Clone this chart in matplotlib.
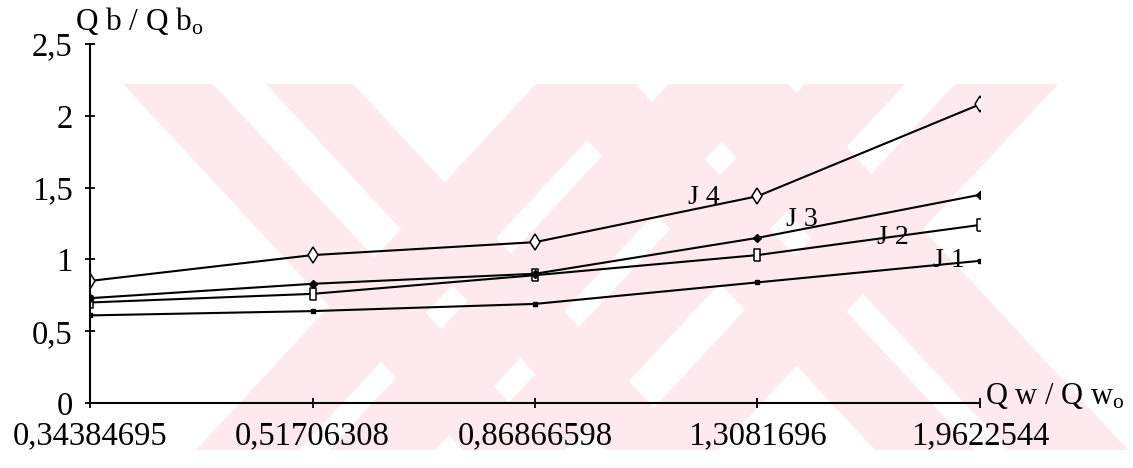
import numpy as np
import matplotlib.pyplot as plt
from matplotlib.patches import Polygon

plt.rcParams['font.family'] = ['Liberation Serif', 'DejaVu Serif']
plt.rcParams['mathtext.fontset'] = 'custom'
plt.rcParams['mathtext.rm'] = 'Liberation Serif'
plt.rcParams['mathtext.it'] = 'Liberation Serif:italic'

# data
qw_labels = ["0,34384695", "0,51706308", "0,86866598", "1,3081696", "1,9622544"]
j1 = [0.61, 0.64, 0.69, 0.84, 0.99]
j2 = [0.70, 0.76, 0.89, 1.03, 1.24]
j3 = [0.73, 0.83, 0.90, 1.15, 1.45]
j4 = [0.85, 1.03, 1.12, 1.44, 2.08]
series_names = ["J 1", "J 2", "J 3", "J 4"]
y_ticks = [0, 0.5, 1, 1.5, 2, 2.5]
y_ticklabels = ["0", "0,5", "1", "1,5", "2", "2,5"]

W, H = 1133, 468
fig = plt.figure(figsize=(W / 100, H / 100), dpi=100)


def px(x, y):
    return (x / W, 1 - y / H)


# pink watermark stripes in the background (pixel geometry)
pink = "#fde9ee"
top, bottom, shift = 84, 450, 340
for x0, x1 in [(123, 213), (266, 353), (535, 635), (668, 788)]:
    pts = [px(x0, top), px(x1, top), px(x1 + shift, bottom), px(x0 + shift, bottom)]
    fig.add_artist(Polygon(pts, closed=True, transform=fig.transFigure,
                           facecolor=pink, edgecolor="none", zorder=0))
for x0, x1 in [(536, 639), (669, 775), (805, 905), (955, 1058)]:
    pts = [px(x0, top), px(x1, top), px(x1 - shift, bottom), px(x0 - shift, bottom)]
    fig.add_artist(Polygon(pts, closed=True, transform=fig.transFigure,
                           facecolor=pink, edgecolor="none", zorder=0))

ax = fig.add_axes([90 / W, 1 - 403 / H, (980 - 90) / W, (403 - 44) / H])
ax.set_facecolor("none")
ax.set_zorder(2)

x = np.arange(len(qw_labels))
rect = [(-0.55, -1), (0.55, -1), (0.55, 1), (-0.55, 1), (-0.55, -1)]
styles = [
    dict(marker="s", ms=3.5, mfc="black"),
    dict(marker=rect, ms=8, mfc="white", mew=1.1),
    dict(marker="D", ms=3.8, mfc="black"),
    dict(marker="d", ms=8, mfc="white", mew=1.1),
]
for vals, st in zip([j1, j2, j3, j4], styles):
    ax.plot(x, vals, color="black", lw=1.5, mec="black", **st)

# series labels placed next to their lines
label_pos = [(3.86, 0.99), (3.61, 1.15), (3.20, 1.28), (2.76, 1.43)]
for name, (lx, ly) in zip(series_names, label_pos):
    ax.text(lx, ly, name, fontsize=20, ha="center", va="center")

ax.set_xlim(0, 4)
ax.set_ylim(0, 2.5)
ax.set_xticks(x)
ax.set_xticklabels(qw_labels)
ax.set_yticks(y_ticks)
ax.set_yticklabels(y_ticklabels)
ax.tick_params(direction="inout", length=7, width=1.3, labelsize=23.5, pad=9, color="black")
for side in ["top", "right"]:
    ax.spines[side].set_visible(False)
for side in ["left", "bottom"]:
    ax.spines[side].set_linewidth(1.5)

fig.text(*px(75, 30), r"Q b / Q b$_\mathrm{o}$", fontsize=22.5, ha="left", va="baseline")
fig.text(*px(985, 404), r"Q w / Q w$_\mathrm{o}$", fontsize=22, ha="left", va="baseline")

fig.savefig("out.png", dpi=100, facecolor="white")
